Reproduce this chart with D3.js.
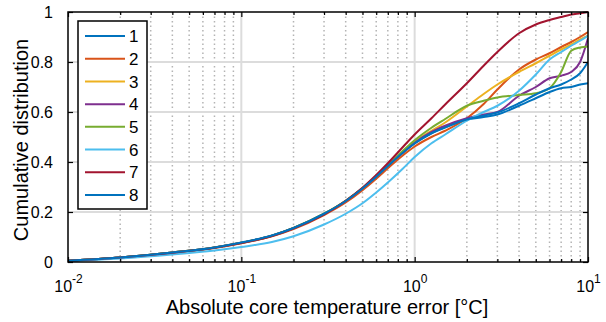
<!DOCTYPE html>
<html>
<head>
<meta charset="utf-8">
<script src="https://cdn.jsdelivr.net/npm/d3@7"></script>
<style>
  body { margin: 0; background: #fff; }
  svg { display: block; font-family: "Liberation Sans", Arial, sans-serif; }
</style>
</head>
<body>
<svg id="chart" width="606" height="322"></svg>
<script>
var xs = [0.01, 0.02, 0.04, 0.07, 0.1, 0.15, 0.2, 0.3, 0.4, 0.5, 0.6, 0.7, 0.85, 1, 1.25, 1.5, 2, 2.5, 3, 4, 5, 6, 7, 8, 9, 10];

// cumulative distribution per case
var s1 = [0.005,0.018,0.038,0.058,0.077,0.105,0.135,0.192,0.243,0.293,0.340,0.383,0.435,0.474,0.515,0.540,0.570,0.580,0.590,0.625,0.655,0.680,0.695,0.700,0.710,0.715];
var s2 = [0.005,0.017,0.036,0.056,0.075,0.103,0.132,0.188,0.238,0.287,0.333,0.375,0.425,0.462,0.500,0.525,0.575,0.632,0.690,0.770,0.810,0.835,0.860,0.880,0.900,0.920];
var s3 = [0.005,0.018,0.038,0.058,0.077,0.105,0.136,0.193,0.245,0.295,0.342,0.386,0.438,0.480,0.525,0.558,0.622,0.672,0.710,0.760,0.795,0.825,0.850,0.870,0.890,0.905];
var s4 = [0.005,0.018,0.038,0.058,0.077,0.105,0.135,0.192,0.243,0.294,0.341,0.385,0.437,0.477,0.520,0.545,0.575,0.590,0.600,0.665,0.700,0.735,0.745,0.760,0.800,0.895];
var s5 = [0.005,0.018,0.038,0.058,0.077,0.105,0.136,0.193,0.245,0.296,0.344,0.388,0.443,0.487,0.537,0.572,0.625,0.645,0.658,0.668,0.675,0.695,0.760,0.845,0.858,0.862];
var s6 = [0.004,0.014,0.030,0.046,0.060,0.080,0.103,0.150,0.193,0.235,0.278,0.318,0.372,0.420,0.475,0.510,0.565,0.600,0.625,0.685,0.750,0.810,0.840,0.865,0.885,0.905];
var s7 = [0.005,0.018,0.037,0.057,0.076,0.104,0.135,0.190,0.245,0.297,0.348,0.395,0.458,0.510,0.575,0.630,0.715,0.785,0.840,0.915,0.950,0.968,0.980,0.990,0.995,1.000];
var s8 = [0.005,0.018,0.038,0.058,0.078,0.106,0.136,0.193,0.244,0.294,0.341,0.384,0.436,0.475,0.515,0.538,0.570,0.585,0.598,0.635,0.670,0.695,0.710,0.730,0.755,0.800];

var seriesNames = ["1","2","3","4","5","6","7","8"];
var seriesVals = [s1, s2, s3, s4, s5, s6, s7, s8];
var colors = ["#0072BD","#D95319","#EDB120","#7E2F8E","#77AC30","#4DBEEE","#A2142F","#0072BD"];

var xMajor = [0.01, 0.1, 1, 10];
var xExp = ["-2", "-1", "0", "1"];
var yTicks = [0, 0.2, 0.4, 0.6, 0.8, 1];
var xLabel = "Absolute core temperature error [°C]";
var yLabel = "Cumulative distribution";

var svg = d3.select("#chart");
var L = 68, R = 588, T = 12, B = 262;

var x = d3.scaleLog().domain([0.01, 10]).range([L, R]);
var y = d3.scaleLinear().domain([0, 1]).range([B, T]);

// minor ticks 2..9 per decade
var xMinor = [];
[0.01, 0.1, 1].forEach(function(d){
  for (var k = 2; k < 10; k++) xMinor.push(d * k);
});

// grid
var grid = svg.append("g");
grid.selectAll(".minor").data(xMinor).enter().append("line")
  .attr("x1", function(d){ return x(d); }).attr("x2", function(d){ return x(d); })
  .attr("y1", T).attr("y2", B)
  .attr("stroke", "#b4b4b4").attr("stroke-width", 1.5).attr("stroke-dasharray", "1.5,3");
grid.selectAll(".vmaj").data(xMajor.slice(1, 3)).enter().append("line")
  .attr("x1", function(d){ return x(d); }).attr("x2", function(d){ return x(d); })
  .attr("y1", T).attr("y2", B)
  .attr("stroke", "#dcdcdc").attr("stroke-width", 2);
grid.selectAll(".hmaj").data(yTicks.slice(1, 5)).enter().append("line")
  .attr("x1", L).attr("x2", R)
  .attr("y1", function(d){ return y(d); }).attr("y2", function(d){ return y(d); })
  .attr("stroke", "#dcdcdc").attr("stroke-width", 2);

// curves
svg.append("clipPath").attr("id", "clip").append("rect")
  .attr("x", L).attr("y", T - 1).attr("width", R - L).attr("height", B - T + 1);

var line = d3.line()
  .x(function(d){ return x(d[0]); })
  .y(function(d){ return y(d[1]); })
  .curve(d3.curveMonotoneX);

var plot = svg.append("g").attr("clip-path", "url(#clip)");
seriesVals.forEach(function(vals, i){
  plot.append("path")
    .datum(xs.map(function(v, j){ return [v, vals[j]]; }))
    .attr("fill", "none")
    .attr("stroke", colors[i])
    .attr("stroke-width", 2)
    .attr("d", line);
});

// axes, ticks pointing inwards on all four sides
function styleAxis(g){
  g.select(".domain").remove();
  g.selectAll(".tick line").attr("stroke", "#000").attr("stroke-width", 1.2);
}
svg.append("g").attr("transform", "translate(0," + B + ")")
  .call(d3.axisBottom(x).tickValues(xMinor).tickSize(-3).tickFormat(""))
  .call(styleAxis);
svg.append("g").attr("transform", "translate(0," + T + ")")
  .call(d3.axisTop(x).tickValues(xMinor).tickSize(-3).tickFormat(""))
  .call(styleAxis);
svg.append("g").attr("transform", "translate(0," + T + ")")
  .call(d3.axisTop(x).tickValues(xMajor).tickSize(-5).tickFormat(""))
  .call(styleAxis);

var xb = svg.append("g").attr("transform", "translate(0," + B + ")")
  .call(d3.axisBottom(x).tickValues(xMajor).tickSize(-5).tickPadding(0).tickFormat(""))
  .call(styleAxis);
xb.selectAll(".tick").append("text")
  .attr("fill", "#000").attr("font-size", 16).attr("text-anchor", "middle").attr("y", 30)
  .each(function(d, i){
    var t = d3.select(this);
    t.append("tspan").text("10");
    t.append("tspan").attr("dy", -9).attr("font-size", 12).text(xExp[i]);
  });

svg.append("g").attr("transform", "translate(" + L + ",0)")
  .call(d3.axisLeft(y).tickValues(yTicks).tickSize(-5).tickPadding(15).tickFormat(d3.format("~g")))
  .call(styleAxis)
  .selectAll("text").attr("font-size", 16).attr("fill", "#000")
  .attr("font-family", "Liberation Sans, Arial, sans-serif");
svg.append("g").attr("transform", "translate(" + R + ",0)")
  .call(d3.axisRight(y).tickValues(yTicks).tickSize(-5).tickFormat(""))
  .call(styleAxis);

// box
svg.append("rect").attr("x", L).attr("y", T).attr("width", R - L).attr("height", B - T)
  .attr("fill", "none").attr("stroke", "#000").attr("stroke-width", 1.5);

// axis labels
svg.append("text").attr("x", 327).attr("y", 314).attr("text-anchor", "middle")
  .attr("font-size", 20).text(xLabel);
svg.append("text").attr("transform", "translate(28,140) rotate(-90)")
  .attr("text-anchor", "middle").attr("font-size", 20).text(yLabel);

// legend
var lg = svg.append("g");
lg.append("rect").attr("x", 78).attr("y", 21).attr("width", 69).attr("height", 188)
  .attr("fill", "#fff").attr("stroke", "#000").attr("stroke-width", 1.5);
var ly = d3.scalePoint().domain(seriesNames).range([36, 195]);
seriesNames.forEach(function(n, i){
  lg.append("line").attr("x1", 85).attr("x2", 125)
    .attr("y1", ly(n)).attr("y2", ly(n))
    .attr("stroke", colors[i]).attr("stroke-width", 2);
  lg.append("text").attr("x", 129).attr("y", ly(n)).attr("dy", "0.36em")
    .attr("font-size", 17).text(n);
});
</script>
</body>
</html>
